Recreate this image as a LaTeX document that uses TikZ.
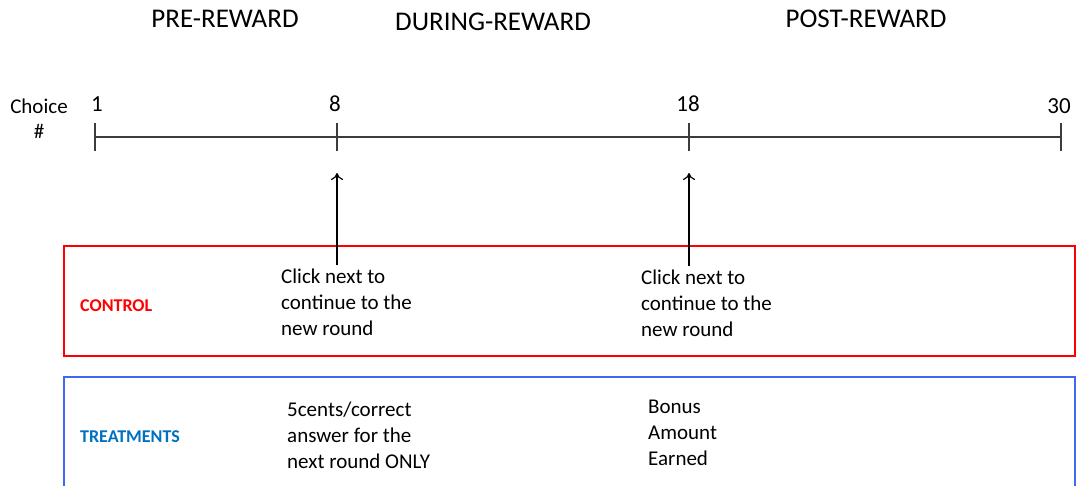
\documentclass[tikz,border=0pt]{standalone}
\usepackage{fontspec}
\setmainfont{Carlito}
\usetikzlibrary{arrows.meta}
\definecolor{ctrlred}{RGB}{255,0,0}
\definecolor{treatblue}{RGB}{65,105,240}
\definecolor{treattext}{RGB}{0,112,192}
\definecolor{axisgray}{RGB}{60,60,60}
\tikzset{
  phase/.style={inner sep=0pt, font=\fontsize{27}{32}\selectfont},
  num/.style={inner sep=0pt, font=\fontsize{23}{28}\selectfont},
  body/.style={inner sep=0pt, align=left, anchor=west, font=\fontsize{21}{26}\selectfont},
  grp/.style={inner sep=0pt, anchor=west, font=\fontsize{18}{22}\selectfont\bfseries},
  axis/.style={draw=axisgray, line width=1.4pt},
  pointer/.style={draw=black, line width=1.2pt, shorten <=3pt, -{To[length=7pt,width=12pt]}},
}
\begin{document}
\begin{tikzpicture}[x=1pt,y=-1pt]
\useasboundingbox (0,0) rectangle (1076,485);
% phase headers
\node[phase] (pre) at (225,19) {PRE-REWARD};
\node[phase] (during) at (493,22) {DURING-REWARD};
\node[phase] (post) at (866,19) {POST-REWARD};
% choice label
\node[inner sep=0pt, align=center, font=\fontsize{21}{25}\selectfont] (choice) at (39,119) {Choice\\\#};
% timeline
\coordinate (t1) at (95,137);
\coordinate (t8) at (337,137);
\coordinate (t18) at (689,137);
\coordinate (t30) at (1061,137);
\draw[axis] (t1) -- (t30);
\foreach \t in {t1,t8,t18,t30}{
  \draw[axis] ([yshift=-14pt]\t) -- ([yshift=14pt]\t);
}
\node[num] (n1) at (97,104) {1};
\node[num] (n8) at (335,104) {8};
\node[num] (n18) at (688,104) {18};
\node[num] (n30) at (1059,106) {30};
% boxes
\draw[draw=ctrlred, line width=2.6pt] (64,246) rectangle (1075,356);
\draw[draw=treatblue, line width=2.6pt] (64,495) -- (64,377) -- (1075,377) -- (1075,495);
\node[grp, text=ctrlred] (control) at (80,306) {CONTROL};
\node[grp, text=treattext] (treat) at (80,437) {TREATMENTS};
% texts
\node[body] (click1) at (281,302) {Click next to\\continue to the\\new round};
\node[body] (click2) at (641,303) {Click next to\\continue to the\\new round};
\node[body] (cents) at (287,435) {5cents/correct\\answer for the\\next round ONLY};
\node[body] (bonus) at (648,433) {Bonus\\Amount\\Earned};
% pointers
\coordinate (p8) at (337,173);
\coordinate (p18) at (689,173);
\draw[pointer] (click1.north -| p8) -- (p8);
\draw[pointer] (click2.north -| p18) -- (p18);
\end{tikzpicture}
\end{document}
